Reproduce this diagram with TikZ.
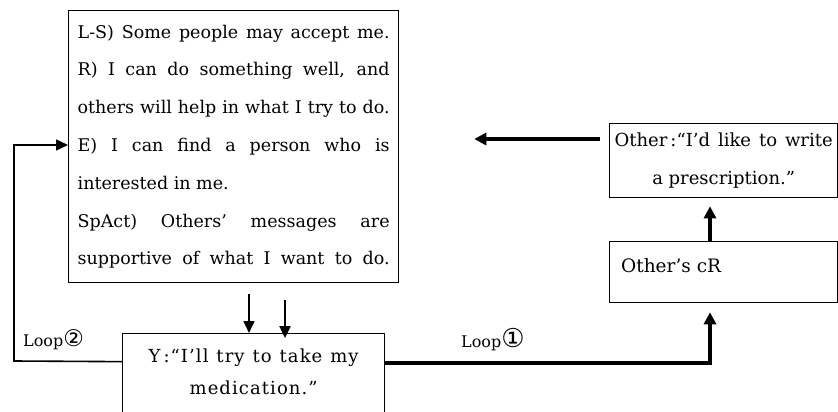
\documentclass[tikz,border=0pt]{standalone}
\usepackage{fontspec}
\setmainfont{DejaVu Serif}
\newfontfamily\circfont{DejaVu Sans}
\newfontfamily\spacedfont[LetterSpace=6]{DejaVu Serif}
\usetikzlibrary{arrows.meta}

\newcommand{\jline}[1]{\makebox[\linewidth][s]{#1}}

\begin{document}
\begin{tikzpicture}[x=1pt,y=-1pt,
  box/.style={draw, line width=1.3pt, inner sep=0pt, anchor=north west},
  thinarrow/.style={line width=1.6pt, -{Triangle[length=12pt,width=11pt]}},
  midarrow/.style={line width=2.4pt, -{Triangle[length=12pt,width=11pt]}},
  boldarrow/.style={line width=3.8pt, -{Triangle[length=12pt,width=12pt]}},
  looplabel/.style={inner sep=0pt, anchor=base west, font=\fontsize{16}{18}\selectfont}]

\useasboundingbox (0,0) rectangle (838,412);

% main belief box
\node[box, minimum width=330pt, minimum height=272pt] (beliefs) at (68,10)
  {\parbox{312pt}{\fontsize{17.5}{37.8}\selectfont\raggedright
   \jline{L-S) Some people may accept me.}\\
   \jline{R) I can do something well, and}\\
   \jline{others will help in what I try to do.}\\
   \jline{E) I can find a person who is}\\
   interested in me.\\
   \jline{SpAct) Others’ messages are}\\
   \jline{supportive of what I want to do.}}};

% Y's statement
\node[box, minimum width=262pt, minimum height=80pt] (ybox) at (122,333)
  {\parbox{262pt}{\centering\spacedfont\fontsize{18}{32}\selectfont
   \makebox[210pt][s]{Y\,:“I’ll try to take my}\\ medication.”\vphantom{g}}};

% other's prescription statement
\node[box, minimum width=228pt, minimum height=74pt] (other) at (609,123)
  {\parbox{228pt}{\centering\fontsize{18}{38}\selectfont
   \makebox[218pt][s]{Other\,:“I’d like to write}\\ a prescription.”}};

% other's cR box
\node[box, minimum width=228pt, minimum height=61pt] (cr) at (609,241) {};
\node[anchor=west, inner sep=0pt, font=\fontsize{18.5}{20}\selectfont] (crtext)
  at (621,266) {Other’s cR};

% loop labels
\node[looplabel] (loopB) at (23,346)
  {Loop{\circfont\fontsize{23}{23}\selectfont ②}};
\node[looplabel] (loopA) at (461,347)
  {Loop{\circfont\fontsize{26}{26}\selectfont ①}};

% loop 1: Y -> other's cR
\draw[boldarrow] ([yshift=11pt]ybox.east) -| ([xshift=101pt,yshift=-9pt]cr.south west);

% cR -> prescription statement
\draw[boldarrow] ([xshift=101pt]cr.north west) -- ([xshift=101pt,yshift=-8pt]other.south west);

% prescription -> beliefs
\draw[boldarrow] ([xshift=-9pt,yshift=-16pt]other.north west) -- ([xshift=75pt,yshift=-129pt]beliefs.north east);

% beliefs -> Y
\draw[thinarrow] ([xshift=181pt,yshift=-11pt]beliefs.south west) -- ([xshift=127pt]ybox.north west);
\draw[midarrow] ([xshift=217pt,yshift=-17pt]beliefs.south west) -- ([xshift=163pt,yshift=-5pt]ybox.north west);

% loop 2: Y -> beliefs
\coordinate (corner) at (14,361);
\draw[thinarrow] ([yshift=12pt]ybox.west) -- (corner) |- ([yshift=-135pt]beliefs.north west);

\end{tikzpicture}
\end{document}
